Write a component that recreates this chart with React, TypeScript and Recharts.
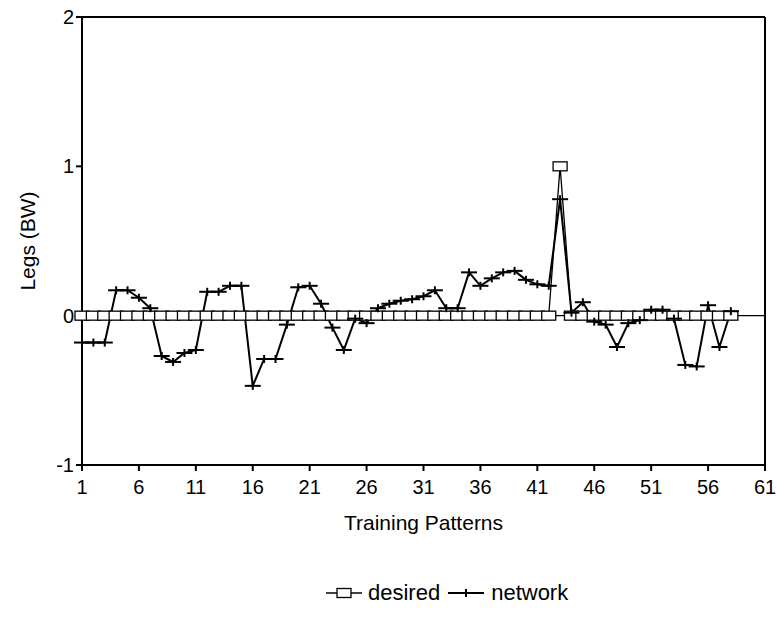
import React from 'react'
import { LineChart, Line, XAxis, YAxis, ReferenceLine, Legend } from 'recharts'

const patterns = [
  1, 2, 3, 4, 5, 6, 7, 8, 9, 10, 11, 12, 13, 14, 15, 16, 17, 18, 19, 20,
  21, 22, 23, 24, 25, 26, 27, 28, 29, 30, 31, 32, 33, 34, 35, 36, 37, 38, 39, 40,
  41, 42, 43, 44, 45, 46, 47, 48, 49, 50, 51, 52, 53, 54, 55, 56, 57, 58,
]

const desired = [
  0, 0, 0, 0, 0, 0, 0, 0, 0, 0, 0, 0, 0, 0, 0, 0, 0, 0, 0, 0,
  0, 0, 0, 0, 0, 0, 0, 0, 0, 0, 0, 0, 0, 0, 0, 0, 0, 0, 0, 0,
  0, 0, 1, 0, 0, 0, 0, 0, 0, 0, 0, 0, 0, 0, 0, 0, 0, 0,
]

const network = [
  -0.18, -0.18, -0.18, 0.17, 0.17, 0.12, 0.05, -0.27, -0.31, -0.25,
  -0.23, 0.16, 0.16, 0.2, 0.2, -0.47, -0.29, -0.29, -0.06, 0.19,
  0.2, 0.08, -0.08, -0.23, -0.02, -0.05, 0.05, 0.08, 0.1, 0.11,
  0.13, 0.17, 0.05, 0.05, 0.29, 0.2, 0.25, 0.29, 0.3, 0.24,
  0.21, 0.2, 0.78, 0.02, 0.09, -0.04, -0.06, -0.21, -0.05, -0.03,
  0.04, 0.04, -0.02, -0.33, -0.34, 0.07, -0.21, 0.03,
]

const xTicks = [1, 6, 11, 16, 21, 26, 31, 36, 41, 46, 51, 56, 61]
const yTicks = [-1, 0, 1, 2]

const data = patterns.map((p, i) => ({ pattern: p, desired: desired[i], network: network[i] }))

const font = '"Liberation Sans", Arial, sans-serif'

// open box marker
const BoxDot = (props: any) => {
  const { cx, cy } = props
  if (cx == null || cy == null) return null
  return <rect x={cx - 7} y={cy - 4.5} width={14} height={9} fill="#fff" stroke="#000" strokeWidth={1.3} />
}

// plus marker, wide and flat
const PlusDot = (props: any) => {
  const { cx, cy } = props
  if (cx == null || cy == null) return null
  return (
    <g stroke="#000" strokeWidth={2}>
      <line x1={cx - 8} y1={cy} x2={cx + 8} y2={cy} />
      <line x1={cx} y1={cy - 4} x2={cx} y2={cy + 4} />
    </g>
  )
}

const LegendContent = () => (
  <div style={{ display: 'flex', alignItems: 'center', fontFamily: font, fontSize: 22, color: '#000', paddingLeft: 326 }}>
    <svg width={36} height={14}>
      <line x1={0} y1={7} x2={36} y2={7} stroke="#000" strokeWidth={1.3} />
      <rect x={11} y={2.5} width={14} height={9} fill="#fff" stroke="#000" strokeWidth={1.3} />
    </svg>
    <span style={{ marginLeft: 6, marginRight: 8 }}>desired</span>
    <svg width={36} height={14}>
      <line x1={0} y1={7} x2={36} y2={7} stroke="#000" strokeWidth={2} />
      <line x1={18} y1={3} x2={18} y2={11} stroke="#000" strokeWidth={2} />
    </svg>
    <span style={{ marginLeft: 7 }}>network</span>
  </div>
)

export default function App() {
  return (
    <div style={{ position: 'absolute', left: 0, top: 0, width: 777, height: 637, background: '#fff', fontFamily: font }}>
      <LineChart width={777} height={637} data={data} margin={{ top: 17, right: 12, left: 42, bottom: 142 }}>
        <XAxis
          dataKey="pattern"
          type="number"
          domain={[1, 61]}
          ticks={xTicks}
          interval={0}
          stroke="#000"
          strokeWidth={2}
          tickSize={6}
          tickMargin={9}
          height={30}
          tick={{ fontSize: 20, fill: '#000', fontFamily: font }}
          label={{ value: 'Training Patterns', position: 'bottom', offset: 20, fontSize: 21, fill: '#000', fontFamily: font }}
        />
        <YAxis
          type="number"
          domain={[-1, 2]}
          ticks={yTicks}
          interval={0}
          stroke="#000"
          strokeWidth={2}
          tickSize={6}
          tickMargin={2}
          width={40}
          tick={{ fontSize: 20, fill: '#000', fontFamily: font }}
          label={{ value: 'Legs (BW)', angle: -90, position: 'insideLeft', offset: -14, fontSize: 21, fill: '#000', fontFamily: font, style: { textAnchor: 'middle' } }}
        />
        {/* frame: top and right edges */}
        <ReferenceLine y={2} stroke="#000" strokeWidth={2} />
        <ReferenceLine x={61} stroke="#000" strokeWidth={2} />
        <ReferenceLine y={0} stroke="#000" strokeWidth={1.3} />
        <Line dataKey="desired" stroke="#000" strokeWidth={1.3} dot={<BoxDot />} activeDot={false} isAnimationActive={false} />
        <Line dataKey="network" stroke="#000" strokeWidth={2} dot={<PlusDot />} activeDot={false} isAnimationActive={false} />
        <Legend layout="horizontal" verticalAlign="middle" align="center" content={<LegendContent />} wrapperStyle={{ top: 580, left: 0, width: 777 }} />
      </LineChart>
    </div>
  )
}
